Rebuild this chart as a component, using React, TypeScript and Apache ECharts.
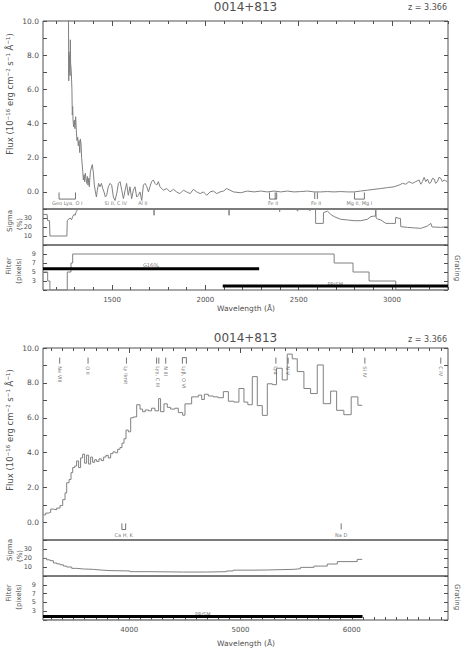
import { useEffect, useRef } from 'react';
import * as echarts from 'echarts';

type Pt = [number, number];

// ---------------- upper plot (UV, G160L + PRISM) ----------------
const titleText = '0014+813';
const redshiftText = 'z = 3.366';

const upperFlux: Pt[] = [
  [1265, 14], [1268, 6.5], [1269, 8.2], [1271, 7.0], [1273, 8.0], [1275, 6.8], [1276.5, 8.9], [1278, 7.5],
  [1280, 7.3], [1282, 6.9], [1285, 6.0], [1287, 4.5], [1289, 5.0], [1291, 4.2], [1294, 3.8], [1298, 4.2],
  [1301, 3.7], [1305, 4.4], [1309, 3.5], [1312, 3.0], [1316, 3.2], [1319, 2.7], [1323, 3.0], [1327, 2.3],
  [1330, 3.1], [1334, 2.8], [1337, 2.0], [1343, 1.2], [1346, 0.7], [1350, 1.0], [1353, 0.6], [1357, 1.1],
  [1360, 0.8], [1364, 0.5], [1368, 0.9], [1371, 0.4], [1375, 0.8], [1378, 0.3], [1384, 1.2], [1389, 1.4],
  [1394, 1.6], [1400, 1.1], [1405, 0.4], [1411, 0.0], [1416, -0.3], [1421, 0.1], [1428, 0.5], [1435, 0.3],
  [1443, 0.5], [1450, 0.2], [1457, 0.0], [1464, -0.3], [1471, -0.2], [1480, 0.3], [1489, 0.5], [1498, 0.4],
  [1507, -0.3], [1516, -0.5], [1525, -0.1], [1534, 0.5], [1543, 0.6], [1552, 0.1], [1561, -0.4], [1570, 0.1],
  [1578, 0.5], [1587, -0.2], [1596, 0.3], [1605, -0.4], [1614, 0.1], [1623, 0.3], [1632, -0.3], [1641, -0.2],
  [1650, 0.0], [1659, -0.5], [1668, 0.4], [1677, 0.5], [1686, 0.3], [1695, 0.0], [1703, 0.3], [1712, 0.6],
  [1721, 0.7], [1730, 0.5], [1739, 0.4], [1748, 0.6], [1757, 0.3], [1775, 0.1], [1793, 0.2], [1811, 0.0],
  [1829, 0.15], [1846, 0.0], [1864, -0.1], [1882, 0.1], [1900, 0.0], [1918, -0.1], [1936, 0.15], [1954, 0.0],
  [1972, -0.1], [1990, 0.0], [2007, -0.2], [2025, 0.0], [2043, 0.05], [2061, -0.1], [2079, 0.0], [2097, 0.05],
  [2114, 0.2], [2132, 0.1], [2150, 0.0], [2189, -0.05], [2225, 0.05], [2261, 0.0], [2297, 0.05], [2332, 0.0],
  [2368, 0.05], [2404, 0.0], [2439, 0.05], [2475, 0.0], [2511, 0.02], [2547, 0.05], [2582, 0.0], [2618, 0.0],
  [2654, 0.02], [2690, 0.0], [2725, 0.02], [2761, 0.0], [2797, 0.0], [2832, 0.05], [2868, 0.1], [2904, 0.15],
  [2940, 0.2], [2975, 0.25], [3011, 0.3], [3038, 0.4], [3056, 0.5], [3074, 0.45], [3091, 0.6], [3109, 0.5],
  [3127, 0.6], [3145, 0.7], [3154, 0.45], [3163, 0.6], [3172, 0.85], [3181, 0.6], [3190, 0.75], [3199, 0.5],
  [3208, 0.55], [3217, 0.8], [3226, 0.75], [3234, 0.5], [3243, 0.6], [3252, 0.85], [3261, 0.8], [3270, 0.6],
  [3279, 0.7], [3288, 0.65], [3297, 0.6],
];

const upperSigma: Pt[] = [
  [1130, 34], [1152, 34], [1155, 27], [1165, 27], [1167, 10], [1258, 10], [1260, 27], [1268, 29],
  [1275, 30], [1283, 28], [1290, 32], [1296, 34], [1302, 33], [1308, 37], [1314, 39], [1320, 60],
  [1722, 60], [1725, 33], [1728, 60], [2124, 60], [2127, 33], [2130, 60], [2396, 60], [2398, 37],
  [2400, 60], [2490, 60], [2492, 38], [2496, 38], [2498, 60], [2558, 60], [2560, 38], [2562, 60],
  [2589, 60], [2591, 24], [2632, 24], [2633, 36], [2654, 37.6], [2672, 34], [2690, 31.5], [2725, 28.6],
  [2761, 27.8], [2797, 27], [2833, 27], [2868, 28.6], [2886, 31.5], [2900, 32], [2911, 32], [2913, 45],
  [2915, 30], [2922, 29], [2940, 27.8], [2967, 24], [2993, 24], [3018, 24], [3020, 30.7], [3038, 29.6],
  [3045, 29.6], [3047, 20.4], [3082, 19.6], [3120, 19], [3154, 18.5], [3189, 21], [3208, 24], [3215, 20],
  [3225, 20], [3261, 19.6], [3297, 20.4],
];

const upperFilter: Pt[] = [
  [1130, 5], [1155, 3], [1167, 1], [1260, 5], [1280, 7], [1289, 9], [2690, 7], [2791, 5], [2877, 3],
  [3020, 1], [3300, 1],
];

const upperGratings = [
  { name: 'G160L', from: 1130, to: 2288, level: 5.75, labelLevel: 6.5 },
  { name: 'PRISM', from: 2093, to: 3300, level: 1.9, labelLevel: 2.4 },
];

type LineId = { label: string; waves: number[]; kind: 'cup' | 'cap' | 'bars' | 'text' };

const upperAbsIds: LineId[] = [
  { label: 'Geo Lyα, O I', waves: [1216, 1304], kind: 'cup' },
  { label: 'Si II, C IV', waves: [1520], kind: 'text' },
  { label: 'Al II', waves: [1665], kind: 'text' },
  { label: 'Fe II', waves: [2344, 2374, 2382], kind: 'cup' },
  { label: 'Fe II', waves: [2586, 2600], kind: 'bars' },
  { label: 'Mg II, Mg I', waves: [2799, 2852], kind: 'cup' },
];

const upperMajorTicks = [1500, 2000, 2500, 3000];

// ---------------- lower plot (optical, PRISM) ----------------
const lowerFlux: Pt[] = [
  [3228, 0.44], [3249, 0.54], [3273, 0.58], [3294, 0.77], [3318, 0.73], [3348, 0.83], [3378, 0.97],
  [3402, 1.31], [3423, 1.70], [3438, 2.28], [3459, 2.47], [3477, 2.86], [3492, 3.15], [3510, 3.24],
  [3527, 3.53], [3545, 3.15], [3563, 3.70], [3581, 3.92], [3599, 3.40], [3617, 3.86], [3635, 3.35],
  [3653, 3.75], [3671, 3.45], [3689, 3.60], [3707, 3.50], [3728, 3.65], [3749, 3.55], [3770, 3.75],
  [3791, 3.85], [3812, 3.70], [3833, 3.95], [3854, 4.05], [3875, 4.00], [3896, 4.20], [3917, 4.30],
  [3935, 4.55], [3953, 4.80], [3971, 5.30], [3992, 5.20], [4013, 6.00], [4037, 6.05], [4067, 6.75],
  [4097, 6.50], [4120, 6.35], [4144, 6.45], [4174, 6.40], [4201, 6.55], [4231, 6.40], [4264, 7.10],
  [4282, 6.35], [4312, 6.80], [4342, 6.60], [4372, 6.50], [4411, 6.55], [4441, 6.30], [4480, 6.15],
  [4501, 6.80], [4561, 7.20], [4621, 7.30], [4651, 7.05], [4675, 7.35], [4711, 7.25], [4756, 7.20],
  [4800, 7.15], [4846, 7.50], [4891, 6.95], [4941, 6.90], [4986, 7.68], [5031, 6.90], [5066, 6.75],
  [5106, 8.36], [5151, 6.70], [5196, 6.14], [5241, 7.95], [5286, 7.90], [5324, 8.84], [5375, 8.17],
  [5420, 9.65], [5465, 9.38], [5510, 8.65], [5570, 7.68], [5630, 7.39], [5690, 9.03], [5744, 6.81],
  [5810, 7.53], [5864, 6.43], [5929, 6.18], [5995, 7.20], [6055, 6.72], [6094, 6.72],
];

const lowerSigma: Pt[] = [
  [3228, 19.6], [3258, 18], [3288, 17], [3318, 14.5], [3348, 13.5], [3378, 12.5], [3408, 11], [3438, 10],
  [3483, 8.5], [3527, 7.8], [3587, 7.4], [3677, 6.7], [3737, 6], [3827, 5.6], [4007, 4.8], [4186, 4.4],
  [4486, 4.4], [4695, 4.8], [4875, 5.6], [4935, 6.5], [5121, 6.7], [5241, 7.4], [5480, 8.1], [5540, 9.6],
  [5660, 11], [5780, 13.3], [5870, 16], [6049, 18.5], [6094, 18.5],
];

const lowerFilter: Pt[] = [[3225, 1], [6097, 1]];

const lowerGratings = [
  { name: 'PRISM', from: 3225, to: 6097, level: 1.8, labelLevel: 2.4 },
];

const lowerAbsIds: LineId[] = [
  { label: 'Ca H, K', waves: [3934, 3968], kind: 'cup' },
  { label: 'Na D', waves: [5905], kind: 'bars' },
];

const lowerEmIds: LineId[] = [
  { label: 'Ne VIII', waves: [3375], kind: 'bars' },
  { label: 'O II', waves: [3630], kind: 'bars' },
  { label: 'Ly limit', waves: [3975], kind: 'bars' },
  { label: 'Lyγ, C III', waves: [4246, 4266], kind: 'bars' },
  { label: 'N III', waves: [4328], kind: 'bars' },
  { label: 'Lyβ, O VI', waves: [4478, 4514], kind: 'cap' },
  { label: 'Lyα', waves: [5318], kind: 'bars' },
  { label: 'N V', waves: [5428], kind: 'bars' },
  { label: 'Si IV', waves: [6118], kind: 'bars' },
  { label: 'C IV', waves: [6800], kind: 'bars' },
];

const lowerMajorTicks = [4000, 5000, 6000];

// ---------------- styling ----------------
const FONT = '"DejaVu Sans", sans-serif';
const INK = '#505050';
const BOX = '#505050';
const TRACE = '#808080';

function minorTicks(range: number[], step: number) {
  const out: number[] = [];
  for (let v = Math.ceil(range[0] / step) * step; v <= range[1]; v += step) out.push(v);
  return out;
}

function buildOption() {
  const grid: any[] = [];
  const xAxis: any[] = [];
  const yAxis: any[] = [];
  const series: any[] = [];
  const graphic: any[] = [];

  const addGrid = (top: number, height: number) => {
    grid.push({ left: 43, width: 405, top, height, show: true, borderColor: BOX, borderWidth: 1, backgroundColor: 'transparent' });
    return grid.length - 1;
  };
  const addX = (g: number, range: number[], position: string, tick: any, label: any) => {
    xAxis.push({
      type: 'value', gridIndex: g, min: range[0], max: range[1], position,
      axisLine: { show: false, onZero: false }, splitLine: { show: false }, minorTick: { show: false },
      axisTick: tick, axisLabel: label,
    });
    return xAxis.length - 1;
  };
  const addY = (g: number, min: number, max: number, interval: number, position: string, label: any) => {
    yAxis.push({
      type: 'value', gridIndex: g, min, max, interval, position,
      axisLine: { show: false, onZero: false }, splitLine: { show: false },
      axisTick: { show: true, inside: true, length: 4, lineStyle: { color: BOX, width: 1 } },
      axisLabel: label,
    });
    return yAxis.length - 1;
  };
  const noLabel = { show: false };
  const lineSeries = (xi: number, yi: number, data: Pt[], color: string, width: number, step?: string) => ({
    type: 'line', xAxisIndex: xi, yAxisIndex: yi, data, step: step || false,
    symbol: 'none', showSymbol: false, silent: true, clip: true,
    lineStyle: { color, width }, z: 3,
  });
  const labelSeries = (xi: number, yi: number, items: { value: Pt; name: string }[], fontSize: number, rotated: boolean) => ({
    type: 'scatter', xAxisIndex: xi, yAxisIndex: yi, silent: true, symbolSize: 0.1,
    itemStyle: { color: 'transparent' }, data: items, z: 4,
    label: {
      show: true, formatter: '{b}', position: [0, 0], color: INK, fontSize, fontFamily: FONT,
      align: rotated ? 'left' : 'center', verticalAlign: 'middle', rotate: rotated ? -90 : 0,
    },
  });

  const addIds = (xi: number, yi: number, ids: LineId[], top: number, bot: number, labelY: number, rotated: boolean) => {
    const labels: { value: Pt; name: string }[] = [];
    ids.forEach((id) => {
      const w = id.waves;
      const first = w[0];
      const last = w[w.length - 1];
      if (id.kind === 'cup') {
        series.push(lineSeries(xi, yi, [[first, top], [first, bot], [last, bot], [last, top]], INK, 0.8));
        w.slice(1, -1).forEach((m) => series.push(lineSeries(xi, yi, [[m, top], [m, bot]], INK, 0.8)));
      } else if (id.kind === 'cap') {
        series.push(lineSeries(xi, yi, [[first, bot], [first, top], [last, top], [last, bot]], INK, 0.8));
      } else if (id.kind === 'bars') {
        w.forEach((m) => series.push(lineSeries(xi, yi, [[m, top], [m, bot]], INK, 0.8)));
      }
      labels.push({ value: [(first + last) / 2, labelY], name: id.label });
    });
    series.push(labelSeries(xi, yi, labels, 5, rotated));
  };

  const panels = [
    {
      range: [1130, 3300], majors: upperMajorTicks, tops: [21, 209, 245], heights: [188, 36, 45],
      flux: upperFlux, fluxStep: undefined, sigma: upperSigma, sigmaStep: undefined, filter: upperFilter,
      gratings: upperGratings, absIds: upperAbsIds, absLv: [-0.03, -0.42, -0.66], emIds: [] as LineId[],
    },
    {
      range: [3225, 6865], majors: lowerMajorTicks, tops: [348, 540, 576], heights: [192, 36, 44],
      flux: lowerFlux, fluxStep: 'end', sigma: lowerSigma, sigmaStep: 'end', filter: lowerFilter,
      gratings: lowerGratings, absIds: lowerAbsIds, absLv: [-0.05, -0.4, -0.72], emIds: lowerEmIds,
    },
  ];

  panels.forEach((p) => {
    const minors = minorTicks(p.range, 100);
    const gF = addGrid(p.tops[0], p.heights[0]);
    const gS = addGrid(p.tops[1], p.heights[1]);
    const gL = addGrid(p.tops[2], p.heights[2]);

    // flux panel
    const fx = addX(gF, p.range, 'top', { show: true, inside: true, length: 5, customValues: p.majors, lineStyle: { color: BOX } }, noLabel);
    addX(gF, p.range, 'top', { show: true, inside: true, length: 3, customValues: minors, lineStyle: { color: BOX } }, noLabel);
    const fy = addY(gF, -1, 10, 1, 'left', {
      show: true, color: INK, fontSize: 7.5, fontFamily: FONT, margin: 4,
      formatter: (v: number) => (v >= 0 && Math.abs(v % 2) < 1e-6 ? v.toFixed(1) : ''),
    });
    addY(gF, -1, 10, 1, 'right', noLabel);

    // sigma panel
    const sx = addX(gS, p.range, 'bottom', { show: false }, noLabel);
    const sy = addY(gS, 0, 40, 10, 'left', {
      show: true, color: INK, fontSize: 6.5, fontFamily: FONT, margin: 11,
      formatter: (v: number) => (v > 0 && v < 40 ? String(v) : ''),
    });
    addY(gS, 0, 40, 10, 'right', noLabel);

    // filter panel
    const lx = addX(gL, p.range, 'bottom', { show: true, inside: true, length: 5, customValues: p.majors, lineStyle: { color: BOX } }, {
      show: true, customValues: p.majors, color: INK, fontSize: 7, fontFamily: FONT, margin: 6,
      formatter: (v: number) => String(v),
    });
    addX(gL, p.range, 'bottom', { show: true, inside: true, length: 3, customValues: minors, lineStyle: { color: BOX } }, noLabel);
    const ly = addY(gL, 1, 11, 2, 'left', {
      show: true, color: INK, fontSize: 6.5, fontFamily: FONT, margin: 7,
      formatter: (v: number) => (v > 1 && v < 11 ? String(v) : ''),
    });
    addY(gL, 1, 11, 2, 'right', noLabel);

    series.push(lineSeries(fx, fy, p.flux, TRACE, 1, p.fluxStep));
    series.push(lineSeries(sx, sy, p.sigma, TRACE, 1, p.sigmaStep));
    series.push(lineSeries(lx, ly, p.filter, TRACE, 1, 'end'));
    p.gratings.forEach((gr) => {
      series.push({ ...lineSeries(lx, ly, [[gr.from, gr.level], [gr.to, gr.level]], '#000', 3), z: 5 });
    });
    series.push(labelSeries(lx, ly, p.gratings.map((gr) => ({ value: [(gr.from + gr.to) / 2, gr.labelLevel] as Pt, name: gr.name })), 5, false));

    addIds(fx, fy, p.absIds, p.absLv[0], p.absLv[1], p.absLv[2], false);
    if (p.emIds.length) addIds(fx, fy, p.emIds, 9.45, 9.1, 8.95, true);
  });

  const txt = (text: string, x: number, y: number, size: number, opts: any = {}) => ({
    type: 'text', x, y, rotation: opts.rotation || 0, silent: true, z: 10,
    style: {
      text, fill: INK, font: `${size}px ${FONT}`, fontSize: size, fontFamily: FONT,
      align: opts.align || 'center', verticalAlign: 'middle', rich: opts.rich,
    },
  });
  const fluxRich = {
    a: { fontSize: 8.5, fontFamily: FONT, fill: INK, lineHeight: 11 },
    b: { fontSize: 5.5, fontFamily: FONT, fill: INK, verticalAlign: 'top', lineHeight: 11 },
  };
  const fluxLabel = '{a|Flux (10}{b|−16}{a| erg cm}{b|−2}{a| s}{b|−1}{a| Å}{b|−1}{a|)}';

  [
    { title: 6.5, z: 7.5, flux: 94, sig: [221, 224], fil: [266, 271], grat: 268, wave: 308 },
    { title: 338, z: 339.5, flux: 430, sig: [550, 556], fil: [593, 597], grat: 597, wave: 643 },
  ].forEach((l) => {
    graphic.push(txt(titleText, 245.5, l.title, 12));
    graphic.push(txt(redshiftText, 447, l.z, 8, { align: 'right' }));
    graphic.push(txt(fluxLabel, 10, l.flux, 8.5, { rotation: Math.PI / 2, rich: fluxRich }));
    graphic.push(txt('Sigma', 9.5, l.sig[0], 7, { rotation: Math.PI / 2 }));
    graphic.push(txt('(%)', 19.5, l.sig[1], 7, { rotation: Math.PI / 2 }));
    graphic.push(txt('Filter', 8.5, l.fil[0], 7, { rotation: Math.PI / 2 }));
    graphic.push(txt('(pixels)', 19, l.fil[1], 7, { rotation: Math.PI / 2 }));
    graphic.push(txt('Grating', 457, l.grat, 7, { rotation: -Math.PI / 2 }));
    graphic.push(txt('Wavelength (Å)', 246, l.wave, 7.5));
  });

  return { animation: false, backgroundColor: '#ffffff', grid, xAxis, yAxis, series, graphic };
}

export default function App() {
  const ref = useRef<HTMLDivElement>(null);
  useEffect(() => {
    if (!ref.current) return;
    const chart = echarts.init(ref.current, undefined, { renderer: 'svg' });
    chart.setOption(buildOption() as any);
    return () => chart.dispose();
  }, []);
  return <div ref={ref} style={{ width: 468, height: 648, position: 'absolute', left: 0, top: 0, background: '#fff' }} />;
}
